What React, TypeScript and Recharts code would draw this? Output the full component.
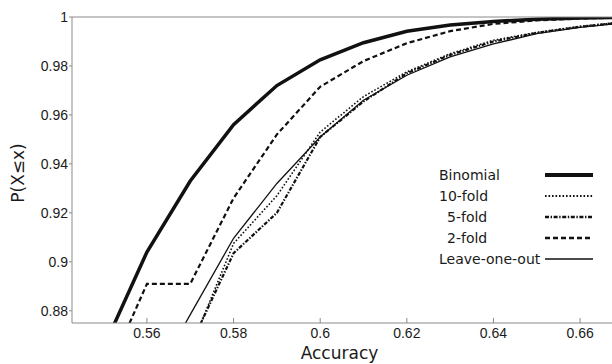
import { LineChart, Line, XAxis, YAxis, Legend } from 'recharts';

const accuracy = [0.55, 0.56, 0.57, 0.58, 0.59, 0.6, 0.61, 0.62, 0.63, 0.64, 0.65, 0.66, 0.67];
const binomial = [0.865, 0.904, 0.933, 0.956, 0.972, 0.9825, 0.9895, 0.9942, 0.9967, 0.9982, 0.9991, 0.9996, 0.9998];
const tenFold = [0.8, 0.835, 0.8643, 0.9075, 0.927, 0.953, 0.9675, 0.9776, 0.985, 0.9905, 0.9937, 0.9962, 0.998];
const fiveFold = [0.8, 0.835, 0.8657, 0.9035, 0.92, 0.951, 0.9655, 0.977, 0.9845, 0.99, 0.9935, 0.996, 0.9978];
const twoFold = [0.851, 0.891, 0.891, 0.926, 0.952, 0.9715, 0.982, 0.9893, 0.9942, 0.9972, 0.9986, 0.9994, 0.9998];
const leaveOneOut = [0.81, 0.847, 0.8784, 0.9096, 0.932, 0.951, 0.966, 0.9762, 0.9837, 0.989, 0.9932, 0.9958, 0.9975];

const xTicks = [0.56, 0.58, 0.6, 0.62, 0.64, 0.66];
const yTicks = [0.88, 0.9, 0.92, 0.94, 0.96, 0.98, 1];

const data = accuracy.map((x, i) => ({
  x,
  binomial: binomial[i],
  tenFold: tenFold[i],
  fiveFold: fiveFold[i],
  twoFold: twoFold[i],
  loo: leaveOneOut[i],
}));

const series = [
  { key: 'binomial', name: 'Binomial', width: 3.5, dash: undefined, legendWidth: 4, indent: 0 },
  { key: 'tenFold', name: '10-fold', width: 1.6, dash: '1.6 1.9', legendWidth: 2, indent: 0 },
  { key: 'fiveFold', name: '5-fold', width: 2.2, dash: '4 1.6 1.4 1.6', legendWidth: 2.5, indent: 8 },
  { key: 'twoFold', name: '2-fold', width: 2.2, dash: '5 3', legendWidth: 2.5, indent: 8 },
  { key: 'loo', name: 'Leave-one-out', width: 1.3, dash: undefined, legendWidth: 1.6, indent: 0 },
];

const tickFont = { fill: '#1a1a1a', fontSize: 14, fontFamily: '"Liberation Sans", Arial, sans-serif' };
const axisColor = '#8a8a8a';

function renderLegend() {
  return (
    <div style={{ fontFamily: '"DejaVu Sans", sans-serif', fontSize: 14, color: '#1a1a1a' }}>
      {series.map((s) => (
        <div key={s.key} style={{ display: 'flex', alignItems: 'center', height: 21 }}>
          <span style={{ width: 106 - s.indent, paddingLeft: s.indent, whiteSpace: 'nowrap' }}>{s.name}</span>
          <svg width={50} height={10}>
            <line x1={0} y1={5} x2={48} y2={5} stroke="#111" strokeWidth={s.legendWidth} strokeDasharray={s.dash} />
          </svg>
        </div>
      ))}
    </div>
  );
}

export default function App() {
  return (
    <div style={{ position: 'absolute', left: 0, top: 0, width: 612, height: 364, overflow: 'hidden', background: '#fff' }}>
      <LineChart width={614} height={364} data={data} margin={{ top: 16, right: 0, bottom: 0, left: 0 }}>
        <XAxis
          dataKey="x"
          type="number"
          domain={[0.5427, 0.6676]}
          ticks={xTicks}
          allowDataOverflow
          height={41}
          tickSize={-5}
          tickMargin={10}
          tick={tickFont}
          stroke={axisColor}
          label={{ value: 'Accuracy', position: 'insideBottom', offset: 5, dx: -3, fill: '#1a1a1a', fontSize: 17, fontFamily: '"DejaVu Sans", sans-serif' }}
        />
        <XAxis
          xAxisId="top"
          dataKey="x"
          type="number"
          orientation="top"
          domain={[0.5427, 0.6676]}
          ticks={xTicks}
          allowDataOverflow
          height={1}
          tickSize={-5}
          tick={false}
          stroke={axisColor}
        />
        <YAxis
          type="number"
          domain={[0.875, 1]}
          ticks={yTicks}
          allowDataOverflow
          width={72}
          tickSize={3}
          tickMargin={1}
          tick={tickFont}
          stroke={axisColor}
          label={{ value: 'P(X≤x)', angle: -90, position: 'insideLeft', offset: 18, dy: 3, fill: '#1a1a1a', fontSize: 17, fontFamily: '"DejaVu Sans", sans-serif', style: { textAnchor: 'middle' } }}
        />
        <YAxis
          yAxisId="right"
          orientation="right"
          type="number"
          domain={[0.875, 1]}
          ticks={yTicks}
          allowDataOverflow
          width={1}
          tickSize={-5}
          tick={false}
          stroke={axisColor}
        />
        <Legend
          layout="horizontal"
          verticalAlign="middle"
          align="center"
          content={renderLegend}
          wrapperStyle={{ left: 439, top: 164, width: 170 }}
        />
        {series.map((s) => (
          <Line
            key={s.key}
            type="linear"
            dataKey={s.key}
            name={s.name}
            stroke="#111"
            strokeWidth={s.width}
            strokeDasharray={s.dash}
            dot={false}
            activeDot={false}
            isAnimationActive={false}
          />
        ))}
      </LineChart>
    </div>
  );
}
